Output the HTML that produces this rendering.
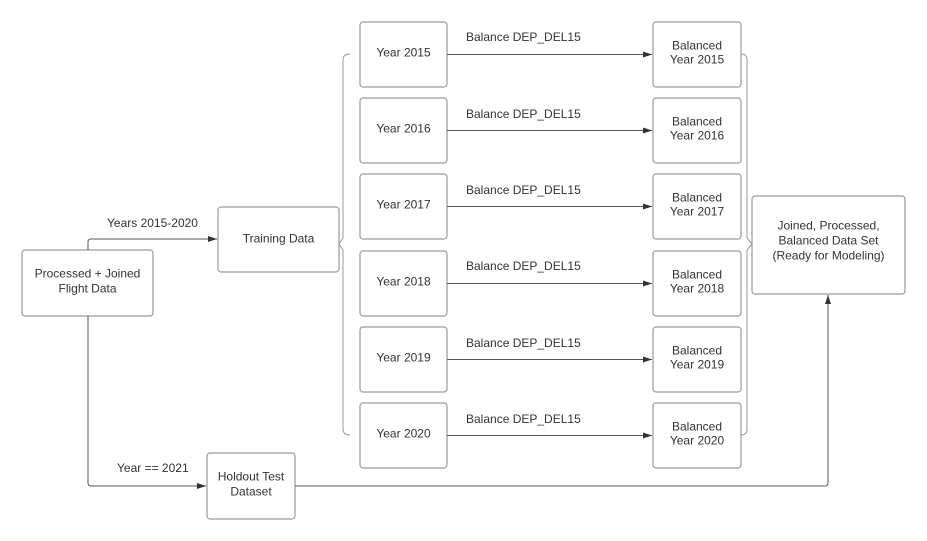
<!DOCTYPE html>
<html><head><meta charset="utf-8"><style>
html,body{margin:0;padding:0;background:#fff;}
svg{display:block;}
text{font-family:"Liberation Sans",sans-serif;font-size:12px;fill:#333;}
</style></head><body>
<svg width="927" height="541" viewBox="0 0 927 541" xmlns="http://www.w3.org/2000/svg">
<defs><marker id="a" markerWidth="10" markerHeight="8" refX="9" refY="4" orient="auto" markerUnits="userSpaceOnUse"><path d="M0,1 L9,4 L0,7 Z" fill="#333"/></marker></defs>
<g fill="#fff" stroke="#9a9a9a" stroke-width="1.2">
<rect x="22" y="250" width="131" height="66" rx="3"/>
<rect x="218" y="207" width="121" height="65" rx="3"/>
<rect x="207" y="453" width="88" height="66" rx="3"/>
<rect x="752" y="196" width="153" height="98" rx="3"/>
<rect x="360" y="22" width="87" height="65" rx="3"/>
<rect x="360" y="98" width="87" height="65" rx="3"/>
<rect x="360" y="174" width="87" height="65" rx="3"/>
<rect x="360" y="251" width="87" height="65" rx="3"/>
<rect x="360" y="327" width="87" height="65" rx="3"/>
<rect x="360" y="403" width="87" height="65" rx="3"/>
<rect x="653" y="22" width="88" height="65" rx="3"/>
<rect x="653" y="98" width="88" height="65" rx="3"/>
<rect x="653" y="174" width="88" height="65" rx="3"/>
<rect x="653" y="251" width="88" height="65" rx="3"/>
<rect x="653" y="327" width="88" height="65" rx="3"/>
<rect x="653" y="403" width="88" height="65" rx="3"/>
</g>
<g fill="none" stroke="#555" stroke-width="1">
<path d="M88,250 V242 Q88,239 91,239 H217" marker-end="url(#a)"/>
<path d="M88,316 V483 Q88,486 91,486 H206" marker-end="url(#a)"/>
<path d="M295,486 H825 Q828,486 828,483 V295" marker-end="url(#a)"/>
<path d="M447,54.5 H652" marker-end="url(#a)"/>
<path d="M447,130.5 H652" marker-end="url(#a)"/>
<path d="M447,206.5 H652" marker-end="url(#a)"/>
<path d="M447,283.5 H652" marker-end="url(#a)"/>
<path d="M447,359.5 H652" marker-end="url(#a)"/>
<path d="M447,435.5 H652" marker-end="url(#a)"/>
</g>
<g fill="none" stroke="#999" stroke-width="1">
<path d="M350,54 Q343,54 343,60 V238 L339,244 L343,250 V429 Q343,435 350,435"/>
<path d="M741,54 Q747,54 747,60 V238 L752,244 L747,250 V429 Q747,435 741,435"/>
</g>
<g text-anchor="middle" transform="translate(0,-1.5)">
<text x="87.5" y="279">Processed + Joined</text><text x="87.5" y="294">Flight Data</text>
<text x="278.5" y="244">Training Data</text>
<text x="251" y="482">Holdout Test</text><text x="251" y="497">Dataset</text>
<text x="828.5" y="231">Joined, Processed,</text><text x="828.5" y="246">Balanced Data Set</text><text x="828.5" y="261">(Ready for Modeling)</text>
<text x="403.5" y="58">Year 2015</text>
<text x="403.5" y="134">Year 2016</text>
<text x="403.5" y="210">Year 2017</text>
<text x="403.5" y="287">Year 2018</text>
<text x="403.5" y="363">Year 2019</text>
<text x="403.5" y="439">Year 2020</text>
<text x="697" y="51">Balanced</text><text x="697" y="65">Year 2015</text>
<text x="697" y="127">Balanced</text><text x="697" y="141">Year 2016</text>
<text x="697" y="203">Balanced</text><text x="697" y="217">Year 2017</text>
<text x="697" y="280">Balanced</text><text x="697" y="294">Year 2018</text>
<text x="697" y="356">Balanced</text><text x="697" y="370">Year 2019</text>
<text x="697" y="432">Balanced</text><text x="697" y="446">Year 2020</text>
</g>
<text x="107" y="227">Years 2015-2020</text>
<text x="117" y="472">Year == 2021</text>
<text x="466" y="41">Balance DEP_DEL15</text>
<text x="466" y="118">Balance DEP_DEL15</text>
<text x="466" y="194">Balance DEP_DEL15</text>
<text x="466" y="270">Balance DEP_DEL15</text>
<text x="466" y="347">Balance DEP_DEL15</text>
<text x="466" y="423">Balance DEP_DEL15</text>
</svg>
</body></html>
